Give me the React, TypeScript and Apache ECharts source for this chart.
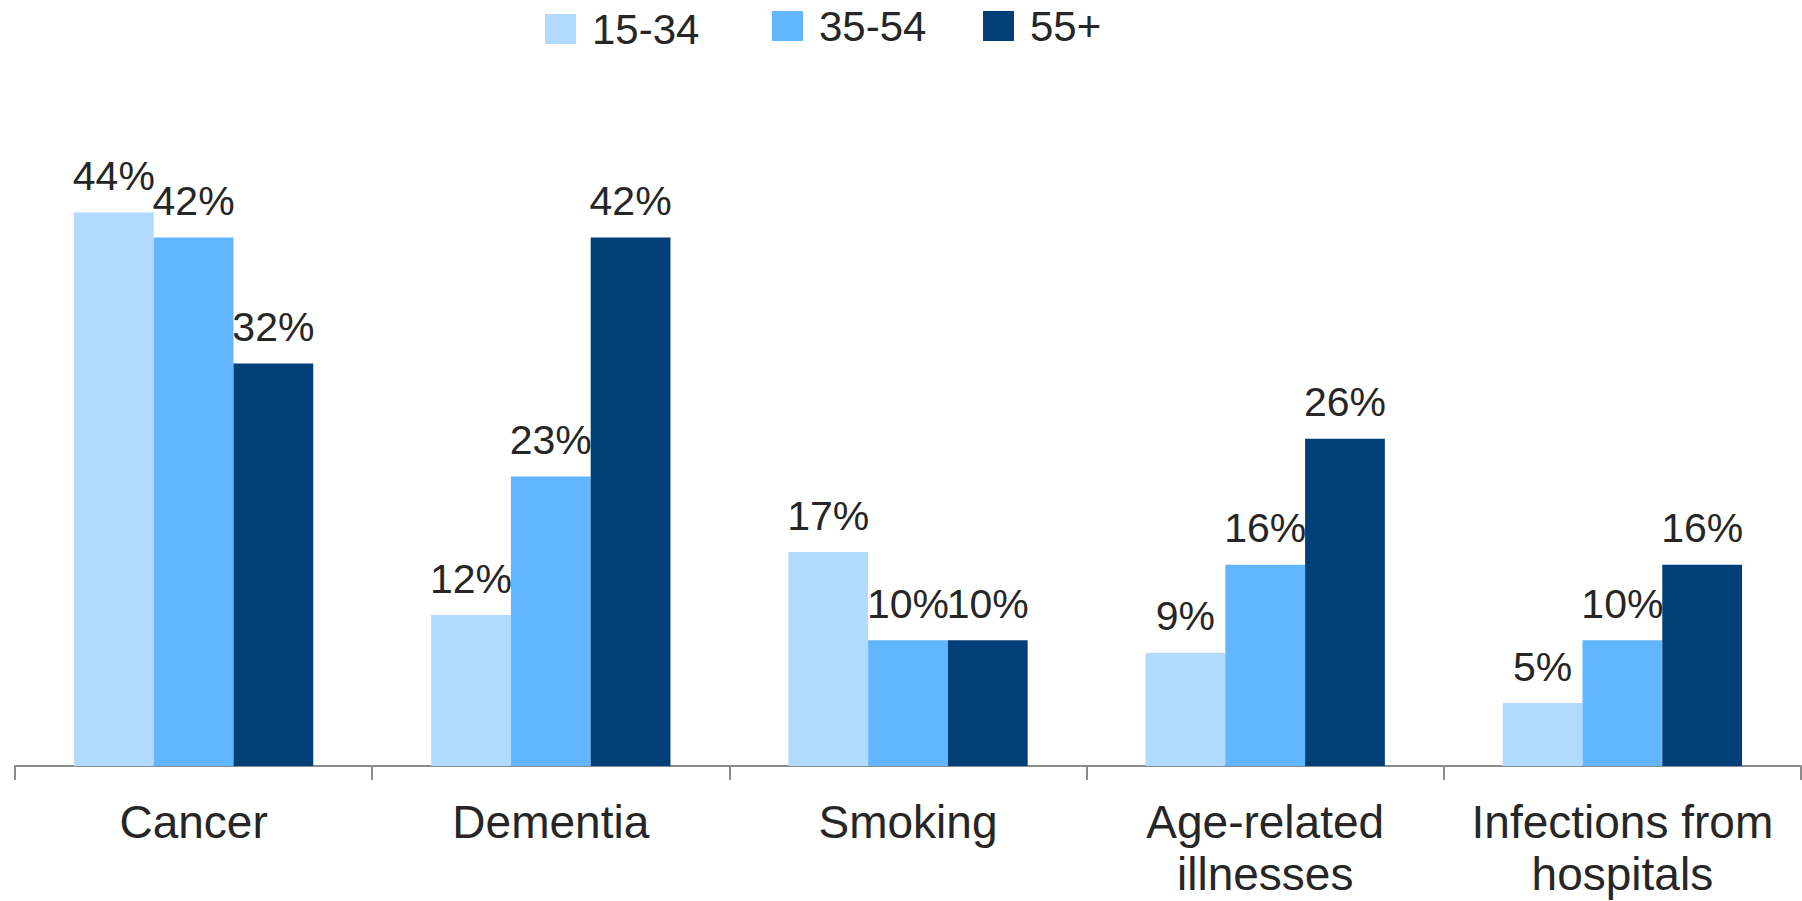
import React, { useEffect, useRef } from "react";
import * as echarts from "echarts";

const categories = ["Cancer", "Dementia", "Smoking", "Age-related\nillnesses", "Infections from\nhospitals"];
const seriesNames = ["15-34", "35-54", "55+"];
const values1534 = [44, 12, 17, 9, 5];
const values3554 = [42, 23, 10, 16, 10];
const values55 = [32, 42, 10, 26, 16];
const colors = ["#B2DAFF", "#62B5FF", "#023F76"];

export default function App() {
  const ref = useRef<HTMLDivElement>(null);
  useEffect(() => {
    if (!ref.current) return;
    const chart = echarts.init(ref.current, null, { renderer: "svg" });
    const font = "'Liberation Sans', Arial, sans-serif";
    const dataSets = [values1534, values3554, values55];
    const legendLefts = [540, 767, 978];
    const legendTops = [3, 0, 0];
    chart.setOption({
      animation: false,
      textStyle: { fontFamily: font },
      legend: seriesNames.map((name, i) => ({
        left: legendLefts[i],
        top: legendTops[i],
        itemWidth: 31,
        itemHeight: 30,
        icon: "rect",
        textStyle: { fontSize: 42, color: "#262626", fontFamily: font, padding: [0, 0, 0, 11] },
        data: [name],
      })),
      grid: { left: 15, right: 1, top: 74, bottom: 135 },
      xAxis: {
        type: "category",
        data: categories,
        axisLine: { lineStyle: { color: "#8c8c8c", width: 2 } },
        axisTick: { show: true, length: 14, lineStyle: { color: "#8c8c8c", width: 2 } },
        axisLabel: { fontSize: 46, color: "#262626", margin: 30, lineHeight: 52, fontFamily: font, interval: 0 },
      },
      yAxis: { type: "value", min: 0, max: 55, show: false, splitLine: { show: false } },
      series: seriesNames.map((name, i) => ({
        name,
        type: "bar",
        data: dataSets[i],
        barGap: "0%",
        barCategoryGap: "33%",
        itemStyle: { color: colors[i] },
        label: {
          show: true,
          position: "top",
          distance: 16,
          formatter: "{c}%",
          fontSize: 41,
          color: "#262626",
          fontFamily: font,
        },
      })),
    });
    return () => chart.dispose();
  }, []);
  return <div ref={ref} style={{ position: "absolute", left: 0, top: 0, width: 1802, height: 901 }} />;
}
